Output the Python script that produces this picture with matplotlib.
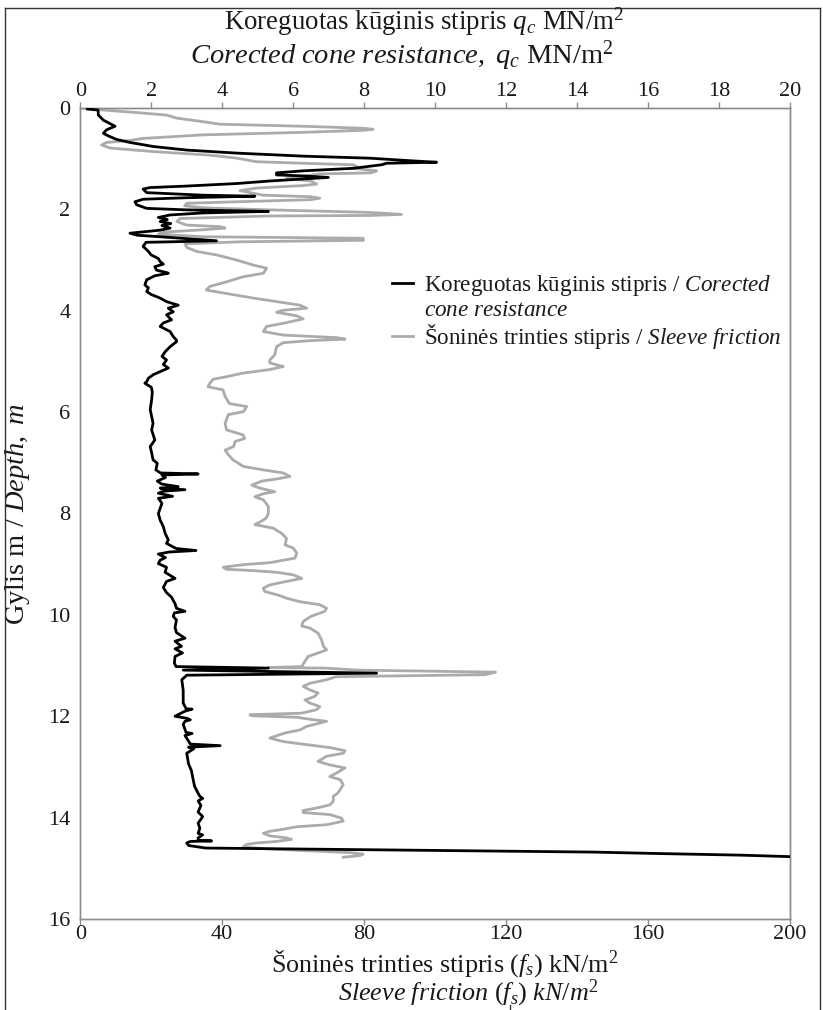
import matplotlib
matplotlib.use("Agg")
import matplotlib.pyplot as plt
from matplotlib.lines import Line2D

# ---------------- data ----------------
# Corrected cone resistance q_c (MN/m2, top axis) vs depth (m)
qc_depth = [0.02, 0.04, 0.14, 0.24, 0.36, 0.43, 0.50, 0.55, 0.62, 0.68, 0.76, 0.83, 0.89, 0.95, 0.99,
            1.04, 1.07, 1.09, 1.12, 1.19, 1.24, 1.28, 1.32, 1.34, 1.37, 1.40, 1.44, 1.49, 1.54, 1.57,
            1.60, 1.67, 1.72, 1.74, 1.77, 1.80, 1.85, 1.91, 1.98, 2.01, 2.04, 2.07, 2.11, 2.16, 2.20,
            2.24, 2.28, 2.32, 2.37, 2.41, 2.47, 2.51, 2.54, 2.62, 2.65, 2.73, 2.83, 2.90, 2.97, 3.03,
            3.08, 3.13, 3.20, 3.25, 3.26, 3.31, 3.39, 3.49, 3.55, 3.62, 3.68, 3.75, 3.82, 3.89, 3.95,
            4.02, 4.08, 4.18, 4.24, 4.31, 4.41, 4.51, 4.58, 4.61, 4.71, 4.81, 4.90, 4.97, 5.06, 5.13,
            5.20, 5.26, 5.33, 5.40, 5.43, 5.51, 5.60, 5.76, 5.95, 6.09, 6.22, 6.35, 6.55, 6.68, 6.80,
            6.94, 7.01, 7.14, 7.20, 7.22, 7.24, 7.29, 7.36, 7.42, 7.47, 7.50, 7.53, 7.56, 7.60, 7.66,
            7.70, 7.80, 8.00, 8.13, 8.26, 8.39, 8.52, 8.59, 8.69, 8.73, 8.76, 8.80, 8.87, 8.92, 8.99,
            9.06, 9.16, 9.28, 9.34, 9.46, 9.56, 9.65, 9.78, 9.87, 9.93, 9.96, 10.03, 10.10, 10.25, 10.35,
            10.46, 10.52, 10.62, 10.67, 10.75, 10.82, 10.95, 11.02, 11.05, 11.09, 11.15, 11.19, 11.28, 11.49, 11.74,
            11.85, 11.86, 11.90, 12.00, 12.04, 12.07, 12.10, 12.16, 12.26, 12.32, 12.34, 12.38, 12.49, 12.55, 12.58,
            12.61, 12.64, 12.73, 12.94, 13.07, 13.25, 13.38, 13.52, 13.58, 13.62, 13.67, 13.76, 13.89, 13.98, 14.11,
            14.21, 14.31, 14.34, 14.40, 14.45, 14.46, 14.47, 14.50, 14.55, 14.60, 14.62, 14.65, 14.68, 14.71, 14.74,
            14.77]
qc_values = [0.20, 0.50, 0.51, 0.65, 0.98, 0.74, 0.65, 0.79, 1.02, 1.40, 2.06, 3.00, 4.41, 6.28, 8.16,
             9.29, 10.04, 8.63, 8.49, 7.69, 6.28, 5.53, 5.53, 6.28, 6.99, 6.28, 5.34, 4.41, 3.00, 1.96,
             1.77, 1.87, 3.46, 4.92, 3.00, 1.77, 1.54, 1.59, 1.87, 3.00, 5.30, 3.46, 2.53, 2.20, 2.45,
             2.25, 2.55, 2.30, 2.53, 2.25, 1.40, 1.60, 2.25, 3.84, 1.85, 1.77, 1.92, 2.00, 2.20, 2.25,
             2.34, 2.10, 2.15, 2.45, 2.48, 2.10, 1.87, 1.82, 1.92, 1.87, 2.00, 2.25, 2.43, 2.76, 2.48,
             2.62, 2.43, 2.57, 2.34, 2.25, 2.53, 2.62, 2.71, 2.71, 2.53, 2.39, 2.30, 2.43, 2.34, 2.48,
             2.25, 2.06, 1.92, 1.87, 1.82, 2.00, 2.03, 2.01, 1.97, 2.01, 2.05, 2.01, 2.10, 1.97, 2.01,
             2.05, 2.17, 2.13, 2.26, 3.32, 2.30, 2.40, 2.17, 2.30, 2.76, 2.25, 2.95, 2.35, 2.20, 2.60,
             2.20, 2.30, 2.20, 2.25, 2.34, 2.39, 2.48, 2.43, 2.70, 3.26, 2.50, 2.20, 2.40, 2.25, 2.20,
             2.43, 2.39, 2.67, 2.43, 2.34, 2.43, 2.57, 2.67, 2.71, 2.95, 2.65, 2.62, 2.71, 2.67, 2.71,
             2.95, 2.67, 2.85, 2.67, 2.88, 2.67, 2.65, 2.70, 5.30, 2.90, 8.35, 3.00, 2.86, 2.90, 2.90,
             2.98, 3.15, 2.95, 2.67, 3.00, 3.10, 2.95, 2.90, 2.95, 2.98, 3.15, 2.95, 3.05, 3.10, 3.94,
             3.05, 3.20, 3.00, 3.05, 3.13, 3.18, 3.22, 3.32, 3.37, 3.45, 3.32, 3.40, 3.32, 3.45, 3.32,
             3.37, 3.32, 3.45, 3.32, 3.32, 3.70, 3.10, 3.00, 3.05, 3.53, 6.26, 10.37, 14.47, 16.40, 18.60,
             20.00]

# Sleeve friction f_s (kN/m2, bottom axis) vs depth (m)
fs_depth = [0.00, 0.04, 0.09, 0.14, 0.20, 0.27, 0.32, 0.36, 0.40, 0.42, 0.44, 0.48, 0.53, 0.60, 0.64,
            0.68, 0.73, 0.79, 0.86, 0.93, 0.99, 1.06, 1.09, 1.12, 1.16, 1.19, 1.24, 1.28, 1.30, 1.39,
            1.44, 1.50, 1.53, 1.58, 1.63, 1.72, 1.75, 1.78, 1.81, 1.85, 1.88, 1.93, 1.97, 2.01, 2.06,
            2.10, 2.12, 2.13, 2.18, 2.24, 2.31, 2.34, 2.37, 2.40, 2.45, 2.49, 2.54, 2.57, 2.61, 2.64,
            2.68, 2.75, 2.83, 2.90, 3.00, 3.10, 3.16, 3.26, 3.33, 3.43, 3.52, 3.59, 3.66, 3.75, 3.82,
            3.89, 3.95, 3.99, 4.03, 4.10, 4.16, 4.24, 4.31, 4.41, 4.48, 4.53, 4.56, 4.59, 4.63, 4.71,
            4.87, 4.97, 5.03, 5.10, 5.16, 5.23, 5.30, 5.35, 5.43, 5.50, 5.56, 5.69, 5.83, 5.89, 5.99,
            6.05, 6.22, 6.35, 6.45, 6.52, 6.58, 6.68, 6.75, 6.84, 6.94, 7.07, 7.14, 7.20, 7.27, 7.32,
            7.36, 7.44, 7.50, 7.57, 7.61, 7.67, 7.73, 7.86, 7.99, 8.08, 8.13, 8.22, 8.29, 8.39, 8.49,
            8.62, 8.68, 8.78, 8.88, 8.97, 9.01, 9.06, 9.10, 9.13, 9.16, 9.21, 9.28, 9.34, 9.41, 9.47,
            9.54, 9.61, 9.67, 9.74, 9.80, 9.87, 9.93, 10.03, 10.13, 10.22, 10.26, 10.36, 10.50, 10.62, 10.69,
            10.74, 10.82, 10.95, 11.02, 11.04, 11.05, 11.09, 11.13, 11.18, 11.22, 11.28, 11.35, 11.41, 11.48, 11.54,
            11.61, 11.68, 11.74, 11.81, 11.87, 11.94, 11.97, 11.99, 12.02, 12.06, 12.10, 12.15, 12.20, 12.27, 12.33,
            12.43, 12.50, 12.56, 12.62, 12.68, 12.73, 12.79, 12.89, 12.96, 13.02, 13.12, 13.19, 13.25, 13.35, 13.45,
            13.52, 13.58, 13.68, 13.75, 13.81, 13.86, 13.90, 13.94, 14.01, 14.07, 14.14, 14.18, 14.23, 14.27, 14.31,
            14.36, 14.40, 14.43, 14.47, 14.50, 14.53, 14.58, 14.62, 14.66, 14.69, 14.72, 14.75, 14.78]
fs_values = [0.4, 6.5, 15.9, 24.3, 27.2, 34.6, 39.4, 62.8, 79.7, 82.5, 79.7, 62.8, 34.6, 17.7, 14.0,
             7.4, 6.0, 8.4, 20.6, 36.5, 44.1, 49.7, 62.8, 76.9, 78.0, 76.9, 83.5, 82.0, 67.5, 58.1,
             65.0, 66.6, 62.8, 49.7, 45.0, 51.5, 64.7, 67.5, 64.7, 44.1, 30.0, 29.4, 35.0, 53.4, 81.6,
             90.5, 81.6, 53.4, 28.1, 27.2, 30.0, 39.4, 40.8, 35.0, 23.4, 22.0, 34.6, 79.7, 79.8, 45.0,
             29.5, 30.0, 32.8, 38.5, 44.1, 48.8, 52.5, 51.6, 45.9, 41.2, 36.5, 35.5, 41.2, 48.8, 55.3,
             61.9, 63.8, 57.2, 55.3, 61.0, 62.8, 57.7, 52.5, 51.6, 57.2, 72.2, 74.6, 64.7, 57.2, 55.3,
             54.8, 53.4, 53.4, 57.2, 53.4, 45.9, 41.2, 37.5, 36.5, 36.0, 40.2, 40.8, 42.0, 46.9, 46.0,
             41.7, 40.8, 41.2, 45.9, 46.3, 43.6, 43.2, 40.8, 41.7, 43.0, 45.9, 51.6, 57.2, 59.1, 55.3,
             51.2, 48.3, 50.6, 54.8, 51.6, 49.2, 51.6, 53.0, 53.0, 52.5, 51.6, 49.2, 54.4, 56.7, 58.1,
             57.7, 60.0, 61.0, 60.5, 53.4, 45.9, 40.3, 41.2, 49.6, 55.3, 60.0, 62.4, 58.1, 53.4, 51.6,
             52.0, 55.8, 58.1, 61.9, 67.5, 69.4, 68.9, 65.0, 62.8, 62.4, 64.7, 67.0, 68.0, 68.5, 69.4,
             67.5, 64.2, 63.0, 62.4, 53.0, 69.0, 78.0, 117.0, 114.0, 72.0, 69.4, 64.7, 62.8, 64.7, 67.0,
             66.0, 63.3, 64.7, 67.5, 66.6, 62.3, 47.8, 48.3, 61.0, 64.7, 69.4, 66.6, 63.8, 61.9, 57.7,
             53.4, 57.2, 63.8, 70.5, 74.6, 74.1, 69.4, 67.0, 70.3, 74.6, 72.2, 70.3, 73.2, 74.1, 73.2,
             72.5, 71.3, 71.3, 70.3, 66.6, 62.8, 62.8, 70.3, 73.6, 74.1, 69.4, 61.0, 57.2, 53.4, 51.6,
             53.4, 58.1, 59.5, 55.3, 49.7, 46.8, 45.9, 53.4, 66.6, 76.0, 79.7, 78.8, 74.1]

qc_ticks = [0, 2, 4, 6, 8, 10, 12, 14, 16, 18, 20]
fs_ticks = [0, 40, 80, 120, 160, 200]
depth_ticks = [0, 2, 4, 6, 8, 10, 12, 14, 16]

label_qc = "Koreguotas kūginis stipris / $\\mathit{Corected}$"
label_qc2 = "$\\mathit{cone\\ resistance}$"
label_fs = "Šoninės trinties stipris / $\\mathit{Sleeve\\ friction}$"

# ---------------- style ----------------
plt.rcParams['font.family'] = ['Liberation Serif', 'DejaVu Serif']
plt.rcParams['mathtext.fontset'] = 'custom'
plt.rcParams['mathtext.rm'] = 'Liberation Serif'
plt.rcParams['mathtext.it'] = 'Liberation Serif:italic'
plt.rcParams['mathtext.bf'] = 'Liberation Serif:bold'

W, H = 823, 1010
fig = plt.figure(figsize=(W / 100, H / 100), dpi=100)
x0, x1, y0, y1 = 80.3, 790.0, 108.0, 919.0
ax = fig.add_axes([x0 / W, 1 - y1 / H, (x1 - x0) / W, (y1 - y0) / H])
ax_top = ax.twiny()

spine_col = '#8c8c8c'
tick_fs = 16
txt_col = '#1a1a1a'

ax.plot(fs_values, fs_depth, color='#ababab', lw=2.0, zorder=2)
ax_top.plot(qc_values, qc_depth, color='black', lw=2.0, zorder=3)

ax.set_xlim(0, 200)
ax_top.set_xlim(0, 20)
ax.set_ylim(16, 0)
ax.set_xticks(fs_ticks)
ax_top.set_xticks(qc_ticks)
ax.set_yticks(depth_ticks)

for a in (ax, ax_top):
    for s in a.spines.values():
        s.set_color(spine_col)
        s.set_linewidth(1.0)

ax.tick_params(axis='x', direction='out', length=4, width=1, color=spine_col,
               labelsize=tick_fs, pad=0.5, labelcolor=txt_col)
ax_top.tick_params(axis='x', direction='out', length=4, width=1, color=spine_col,
                   labelsize=tick_fs, pad=1.0, labelcolor=txt_col)
ax.tick_params(axis='y', direction='out', length=0, labelsize=tick_fs, pad=7,
               labelcolor=txt_col)

ax.set_ylabel("Gylis m / $\\mathit{Depth,\\ m}$", fontsize=20.5, color=txt_col)
ax.yaxis.set_label_coords((32 - x0) / (x1 - x0), 0.5)

# axis titles
fig.text(424 / W, 1 - 30 / H, "Koreguotas kūginis stipris $q_c$ MN/m$^2$",
         ha='center', va='baseline', fontsize=19.4, color=txt_col)
fig.text(402 / W, 1 - 64 / H, "$\\mathit{Corected\\ cone\\ resistance,\\ q_c}$ MN/m$^2$",
         ha='center', va='baseline', fontsize=20.5, color=txt_col)
fig.text(444.7 / W, 1 - 972 / H, "Šoninės trinties stipris ($f_s$) kN/m$^2$",
         ha='center', va='baseline', fontsize=18.8, color=txt_col)
fig.text(469 / W, 1 - 1000.5 / H, "$\\mathit{Sleeve\\ friction\\ (f_s)\\ kN/m^2}$",
         ha='center', va='baseline', fontsize=18.8, color=txt_col)

# legend
handles = [Line2D([], [], color='black', lw=2.0),
           Line2D([], [], color='none', lw=0),
           Line2D([], [], color='#ababab', lw=2.0)]
leg = ax.legend(handles, [label_qc, label_qc2, label_fs], loc='upper left',
                bbox_to_anchor=((392 - x0) / (x1 - x0), 1 - (273 - y0) / (y1 - y0)),
                frameon=False, fontsize=16.7, handlelength=0.9, handletextpad=0.5,
                labelspacing=0.06, borderpad=0, borderaxespad=0)
for t in leg.get_texts():
    t.set_color(txt_col)

# page frame lines (as in the reference)
frame_col = '#333333'
fig.add_artist(Line2D([5 / W, 5 / W], [0, 1 - 8 / H], transform=fig.transFigure, color=frame_col, lw=1))
fig.add_artist(Line2D([5 / W, 820 / W], [1 - 8 / H, 1 - 8 / H], transform=fig.transFigure, color=frame_col, lw=1))
fig.add_artist(Line2D([820 / W, 820 / W], [0, 1 - 8 / H], transform=fig.transFigure, color=frame_col, lw=1))
fig.add_artist(Line2D([510 / W, 510 / W], [0, 1 - 1005 / H], transform=fig.transFigure, color=frame_col, lw=1))

fig.savefig("out.png", dpi=100)
